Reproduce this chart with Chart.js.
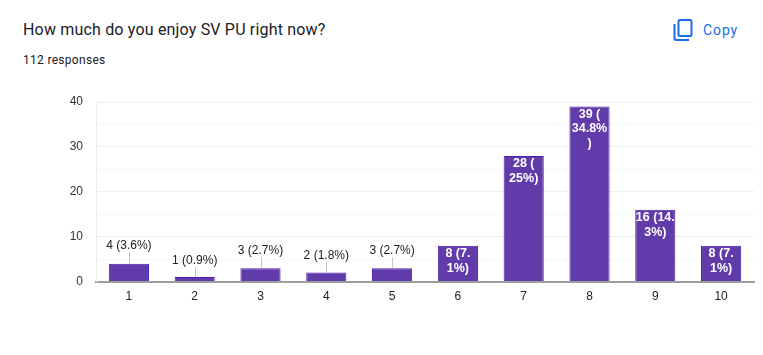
<!DOCTYPE html>
<html>
<head>
<meta charset="utf-8">
<style>
html, body { margin: 0; padding: 0; background: #fff; width: 763px; height: 355px; overflow: hidden; }
#wrap { position: absolute; left: 0; top: 0; width: 763px; height: 355px; }
.title { position: absolute; left: 23px; top: 20px; font: 400 16px Roboto, sans-serif; color: #202124; letter-spacing: 0.18px; white-space: nowrap; }
.sub { position: absolute; left: 23px; top: 53px; font: 400 12px Roboto, sans-serif; color: #202124; letter-spacing: 0.3px; white-space: nowrap; }
.copy { position: absolute; left: 703px; top: 22px; font: 400 14px Roboto, sans-serif; color: #1a6ce8; letter-spacing: 0.9px; }
svg { position: absolute; left: 672px; top: 18px; }
canvas { position: absolute; left: 0; top: 0; }
</style>
</head>
<body>
<div id="wrap">
  <div class="title">How much do you enjoy SV PU right now?</div>
  <div class="sub">112 responses</div>
  <svg width="22" height="24" viewBox="0 0 22 24" fill="none" stroke="#1a6ce8" stroke-width="2">
    <rect x="6.5" y="2" width="13" height="16" rx="1.5"/>
    <path d="M2.5 6v14.5a1.5 1.5 0 0 0 1.5 1.5h13"/>
  </svg>
  <div class="copy">Copy</div>
  <canvas id="barCanvas" width="763" height="355"></canvas>
</div>
<script src="https://cdn.jsdelivr.net/npm/chart.js@4"></script>
<script>
const categories = ["1", "2", "3", "4", "5", "6", "7", "8", "9", "10"];
const responses = [4, 1, 3, 2, 3, 8, 28, 39, 16, 8];
const barLabels = [
    ["4 (3.6%)"],
    ["1 (0.9%)"],
    ["3 (2.7%)"],
    ["2 (1.8%)"],
    ["3 (2.7%)"],
    ["8 (7.", "1%)"],
    ["28 (", "25%)"],
    ["39 (", "34.8%", ")"],
    ["16 (14.", "3%)"],
    ["8 (7.", "1%)"],
];
const yMax = 40;

// labels above the small bars, with a grey leader line down to the bar
const leaderHeights = [17, 15, 16, 16, 16];

const barLabelPlugin = {
    id: "barLabelPlugin",
    afterDatasetsDraw(chart) {
        const ctx = chart.ctx;
        const bars = chart.getDatasetMeta(0).data;
        ctx.save();
        ctx.textAlign = "center";
        ctx.textBaseline = "middle";
        bars.forEach((bar, i) => {
            const lines = barLabels[i];
            if (i < leaderHeights.length) {
                const h = leaderHeights[i];
                ctx.strokeStyle = "#c4c4c4";
                ctx.lineWidth = 1;
                ctx.beginPath();
                ctx.moveTo(Math.round(bar.x) + 0.5, bar.y);
                ctx.lineTo(Math.round(bar.x) + 0.5, bar.y - h + 5);
                ctx.stroke();
                ctx.font = "12px 'Liberation Sans', Arial, sans-serif";
                ctx.fillStyle = "#222";
                ctx.fillText(lines[0], bar.x, bar.y - h - 1);
            } else {
                ctx.font = "bold 12.5px 'Liberation Sans', Arial, sans-serif";
                ctx.fillStyle = "#fff";
                lines.forEach((line, k) => {
                    ctx.fillText(line, bar.x, bar.y + 8 + k * 14.5);
                });
            }
        });
        ctx.restore();
    },
};

const barChart = new Chart(document.getElementById("barCanvas"), {
    type: "bar",
    data: {
        labels: categories,
        datasets: [
            {
                data: responses,
                backgroundColor: "#623bab",
                borderColor: "#4a1fb0",
                borderWidth: 1,
                barPercentage: 0.61,
                categoryPercentage: 1,
            },
        ],
    },
    options: {
        responsive: false,
        animation: false,
        layout: { padding: { left: 0, right: 9, top: 102, bottom: 51 } },
        plugins: {
            legend: { display: false },
            tooltip: { enabled: false },
        },
        scales: {
            x: {
                grid: { display: false },
                border: { color: "#9e9e9e", width: 2 },
                ticks: {
                    color: "#222",
                    font: { family: "'Liberation Sans', Arial, sans-serif", size: 12 },
                    padding: 0,
                    maxRotation: 0,
                },
            },
            y: {
                min: 0,
                max: yMax,
                afterFit(scale) { scale.width = 96; },
                grid: {
                    color: (c) => (c.tick.value % 10 === 0 ? "#eeeeee" : "#f7f7f7"),
                    drawTicks: false,
                },
                border: { color: "#eeeeee" },
                ticks: {
                    stepSize: 5,
                    color: "#333",
                    padding: 13,
                    font: { family: "'Liberation Sans', Arial, sans-serif", size: 12 },
                    callback: (v) => (v % 10 === 0 ? v : ""),
                },
            },
        },
    },
    plugins: [barLabelPlugin],
});
</script>
</body>
</html>
